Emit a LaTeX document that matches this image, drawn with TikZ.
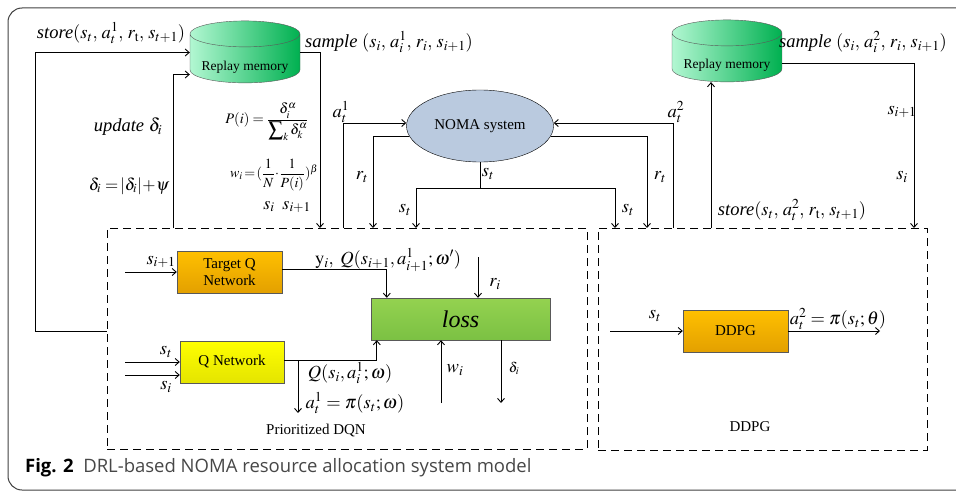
\documentclass[tikz,border=0pt]{standalone}
\usepackage{mathptmx}
\usepackage{fontspec}
\setmainfont{Liberation Serif}
\newfontfamily\capfont{Open Sans}
\usetikzlibrary{positioning,shapes.geometric,arrows.meta}
\usepackage{xcolor}

\definecolor{memlight}{HTML}{B2F7D2}
\definecolor{memdark}{HTML}{00B050}
\definecolor{nomafill}{HTML}{BACADF}
\definecolor{orangetop}{HTML}{FFC000}
\definecolor{orangebot}{HTML}{E3A000}
\definecolor{yellowtop}{HTML}{FFFF00}
\definecolor{yellowbot}{HTML}{E4E400}
\definecolor{losstop}{HTML}{94D250}
\definecolor{lossbot}{HTML}{7BC143}
\definecolor{edgegray}{HTML}{595959}
\definecolor{capgray}{HTML}{474747}

\begin{document}
\begin{tikzpicture}[
    x=1pt, y=-1pt,
    memory/.style={cylinder, shape border rotate=90, aspect=0.3, draw=edgegray, left color=memlight, right color=memdark, minimum width=110pt, minimum height=62pt, inner sep=0pt, font=\fontsize{13.5}{15}\selectfont},
    netbox/.style={draw=edgegray, rectangle, minimum height=42pt, inner sep=0pt, align=center, font=\fontsize{15}{17}\selectfont},
    dashbox/.style={draw, dash pattern=on 8pt off 5pt, line width=0.9pt, rectangle, inner sep=0pt},
    lbl/.style={inner sep=0pt, font=\fontsize{18.5}{21}\selectfont},
    smalllbl/.style={inner sep=0pt, font=\fontsize{14}{16}\selectfont},
    arrow/.style={line width=0.9pt, -{Straight Barb[length=4pt,width=7pt]}},
    line/.style={line width=0.9pt}
]
  \useasboundingbox (0,0) rectangle (956,492);
  \draw [line width=1pt, black!75, rounded corners=14pt] (8,8) rectangle (975,490);

  % Memories and NOMA system
  \node (lmem) [memory] at (245,58.5) {\raisebox{-12pt}[0pt][0pt]{Replay memory}};
  \node (rmem) [memory] at (727,57.5) {\raisebox{-11pt}[0pt][0pt]{Replay memory}};
  \node (noma) [ellipse, draw, fill=nomafill, minimum width=147pt, minimum height=72pt, inner sep=0pt, font=\fontsize{15}{17}\selectfont] at (480,126) {NOMA system};

  % Agent boxes
  \node (dqnbox) [dashbox, minimum width=480pt, minimum height=221pt] at (347,338.5) {};
  \node (ddpgbox) [dashbox, minimum width=329pt, minimum height=222pt] at (762.5,339) {};
  \node (tqnet) [netbox, minimum width=105pt, top color=orangetop, bottom color=orangebot] at (229.5,272) {Target Q\\Network};
  \node (qnet) [netbox, minimum width=104pt, top color=yellowtop, bottom color=yellowbot] at (232,362) {Q Network};
  \node (loss) [netbox, minimum width=179pt, top color=losstop, bottom color=lossbot, font=\fontsize{24}{26}\selectfont\itshape] at (460.5,319) {loss};
  \node (ddpg) [netbox, minimum width=105pt, top color=orangetop, bottom color=orangebot] at (735.5,331) {DDPG};
  \node (dqnname) [inner sep=0pt, font=\fontsize{15}{17}\selectfont] at (316,431) {Prioritized DQN};
  \node (ddpgname) [inner sep=0pt, font=\fontsize{15}{17}\selectfont] at (750,427) {DDPG};

  % Free ends
  \coordinate (storeL) at (35,331);
  \coordinate (updL) at (173,228);
  \coordinate (sampL) at (320,228);
  \coordinate (at1) at (343,228);
  \coordinate (rtL) at (373,228);
  \coordinate (stmid) at (480,188);
  \coordinate (stL) at (416,228);
  \coordinate (stR) at (615,228);
  \coordinate (rtR) at (647,228);
  \coordinate (at2) at (673,228);
  \coordinate (storeR) at (711,228);
  \coordinate (sampR) at (914,228);
  \coordinate (tin) at (125,272);
  \coordinate (qin1) at (125,362);
  \coordinate (qin2) at (125,375);
  \coordinate (riin) at (478,257);
  \coordinate (qout) at (298,413);
  \coordinate (wiin) at (441,403);
  \coordinate (diout) at (501,403);
  \coordinate (ddin) at (610,331);
  \coordinate (ddout) at (880,331);

  % Arrows
  \draw [arrow] (dqnbox.west |- storeL) -- (storeL) |- ([yshift=6pt]lmem.west);
  \draw [arrow] (updL) |- ([yshift=-16pt]lmem.west);
  \draw [arrow] ([yshift=6pt]lmem.east) -| (sampL);
  \draw [arrow] (at1) |- ([yshift=3pt]noma.west);
  \draw [arrow] (noma.188) -| (rtL);
  \draw [line] (noma.south) -- (stmid);
  \draw [arrow] (stmid) -| (stL);
  \draw [arrow] (stmid) -| (stR);
  \draw [arrow] (noma.-8) -| (rtR);
  \draw [arrow] (at2) |- ([yshift=3pt]noma.east);
  \draw [arrow] (storeR) -- (storeR |- rmem.south);
  \draw [arrow] ([yshift=-5.5pt]rmem.east) -| (sampR);
  \draw [arrow] (tin) -- (tin -| tqnet.west);
  \draw [arrow] (qin1) -- (qin1 -| qnet.west);
  \draw [arrow] (qin2) -- (qin2 -| qnet.west);
  \draw [arrow] ([yshift=3pt]tqnet.east) -| ([xshift=16pt]loss.north west);
  \draw [arrow] (riin) -- (riin |- loss.north);
  \draw [arrow] ([yshift=2pt]qnet.east) -| ([xshift=6pt]loss.south west);
  \draw [arrow] ([yshift=2pt]qnet.east -| qout) -- (qout);
  \draw [arrow] (wiin) -- (wiin |- loss.south);
  \draw [arrow] (diout |- loss.south) -- (diout);
  \draw [arrow] (ddin) -- (ddin -| ddpg.west);
  \draw [arrow] (ddpg.east) -- (ddout);

  % Labels
  \node (storeLtxt) [lbl] at (111,33) {\textit{store}$(s_t,\, a_t^1,\, r_{\mathrm{t}},\, s_{t+1})$};
  \node (sampLtxt) [lbl] at (389,42) {\textit{sample} $(s_i,\, a_i^1,\, r_i,\, s_{i+1})$};
  \node (updtxt) [lbl] at (128,127) {\textit{update} $\delta_i$};
  \node (deltxt) [lbl, font=\fontsize{17}{19}\selectfont] at (129,186) {$\delta_i =\!|\delta_i|\!+\!\psi$};
  \node (probtxt) [inner sep=0pt, font=\fontsize{14.5}{16}\selectfont] at (267,122) {$\displaystyle P(i)=\frac{\delta_i^\alpha}{\displaystyle\sum\nolimits_k \delta_k^\alpha}$};
  \node (wtxt) [inner sep=0pt, font=\fontsize{14}{16}\selectfont] at (274,175) {$\displaystyle w_i\!=\!(\frac{1}{N}\!\cdot\!\frac{1}{P(i)})^\beta$};
  \node (sstxt) [lbl, font=\fontsize{18}{20}\selectfont] at (287,207) {$s_i\;\; s_{i+1}$};
  \node (at1txt) [lbl] at (341,112) {$a_t^1$};
  \node (rtLtxt) [lbl] at (362,177) {$r_t$};
  \node (stmtxt) [lbl] at (488,174) {$s_t$};
  \node (stLtxt) [lbl] at (405,210) {$s_t$};
  \node (stRtxt) [lbl] at (628,210) {$s_t$};
  \node (rtRtxt) [lbl] at (660,177) {$r_t$};
  \node (at2txt) [lbl] at (676,112) {$a_t^2$};
  \node (sampRtxt) [lbl] at (863,42) {\textit{sample} $(s_i,\, a_i^2,\, r_i,\, s_{i+1})$};
  \node (sip1txt) [lbl] at (902,112) {$s_{i+1}$};
  \node (sitxt) [lbl] at (902,177) {$s_i$};
  \node (storeRtxt) [lbl] at (792,210) {\textit{store}$(s_t,\, a_t^2,\, r_{\mathrm{t}},\, s_{t+1})$};
  \node (tintxt) [lbl] at (161,262) {$s_{i+1}$};
  \node (ytxt) [lbl] at (388,260) {$\mathrm{y}_i,\ Q(s_{i+1}, a_{i+1}^1; \omega')$};
  \node (ritxt) [lbl] at (495,284) {$r_i$};
  \node (qin1txt) [lbl] at (166,352) {$s_t$};
  \node (qin2txt) [lbl] at (166,387) {$s_i$};
  \node (qvaltxt) [lbl] at (350,373) {$Q(s_i, a_i^1; \omega)$};
  \node (acttxt) [lbl] at (355,403) {$a_t^1=\pi(s_t;\omega)$};
  \node (witxt) [lbl] at (455,370) {$w_i$};
  \node (ditxt) [smalllbl] at (514,368) {$\delta_i$};
  \node (ddintxt) [lbl] at (655,316) {$s_t$};
  \node (ddouttxt) [lbl] at (838,319) {$a_t^2=\pi(s_t;\theta)$};

  % Caption
  \node (caption) [anchor=west, inner sep=0pt, font=\capfont\fontsize{18.5}{21}\selectfont] at (25,468) {\textbf{Fig. 2}\ \ \textcolor{capgray}{DRL-based NOMA resource allocation system model}};
\end{tikzpicture}
\end{document}
